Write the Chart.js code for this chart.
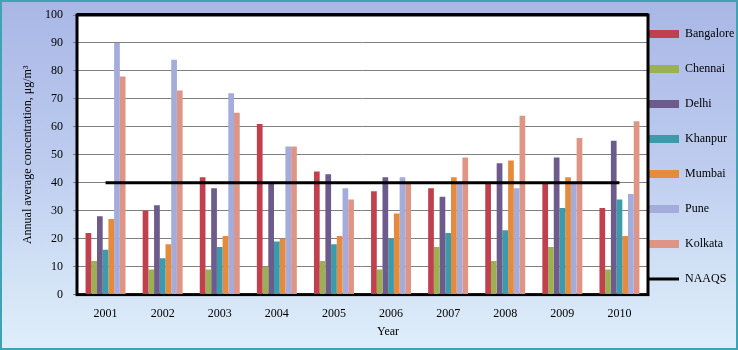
<!DOCTYPE html>
<html>
<head>
<meta charset="utf-8">
<script src="https://cdn.jsdelivr.net/npm/chart.js@4.4.1/dist/chart.umd.min.js"></script>
<style>
  body { margin: 0; }
  #wrap {
    position: relative; width: 738px; height: 350px; box-sizing: border-box;
    border: 2px solid #3fa3b3;
    background: linear-gradient(#a9b7e6 0%, #bccbee 45%, #d3e3f6 80%, #dfeefa 100%);
  }
  #wrap canvas { position: absolute; left: -2px; top: -2px; }
</style>
</head>
<body>
<div id="wrap"><canvas id="c" width="738" height="350"></canvas></div>
<script>
const years = ['2001', '2002', '2003', '2004', '2005', '2006', '2007', '2008', '2009', '2010'];

// annual average concentration per city, µg/m3
const bangalore = [22, 30, 42, 61, 44, 37, 38, 40, 40, 31];
const chennai   = [12,  9,  9, 10, 12,  9, 17, 12, 17,  9];
const delhi     = [28, 32, 38, 40, 43, 42, 35, 47, 49, 55];
const khanpur   = [16, 13, 17, 19, 18, 20, 22, 23, 31, 34];
const mumbai    = [27, 18, 21, 20, 21, 29, 42, 48, 42, 21];
const pune      = [90, 84, 72, 53, 38, 42, 40, 38, 40, 36];
const kolkata   = [78, 73, 65, 53, 34, 40, 49, 64, 56, 62];
const naaqs     = years.map(() => 40);

const serif = 'Liberation Serif, Times New Roman, serif';

const cities = [
  ['Bangalore', bangalore, '#c0404e'],
  ['Chennai',   chennai,   '#9bb052'],
  ['Delhi',     delhi,     '#6c5b8b'],
  ['Khanpur',   khanpur,   '#3b9bab'],
  ['Mumbai',    mumbai,    '#e68b3d'],
  ['Pune',      pune,      '#a4acdc'],
  ['Kolkata',   kolkata,   '#df9585'],
];

// white plot area, black frame under the bars, legend pulled against the frame
const plotFrame = {
  id: 'plotFrame',
  beforeLayout(chart) {
    const lg = chart.legend;
    if (lg && !lg._narrow) {
      const fit = lg.fit.bind(lg);
      lg.fit = function () { fit(); this.width = 90; };
      lg._narrow = true;
    }
  },
  afterLayout(chart) {
    const lg = chart.legend, a = chart.chartArea;
    lg.left = a.right + 1 - lg.options.labels.padding;
    lg.right = chart.width;
    lg.width = lg.right - lg.left;
    lg.top = a.top - 10;
    lg.bottom = chart.height;
    lg.height = lg.bottom - lg.top;
  },
  beforeDraw(chart) {
    const { ctx, chartArea: a } = chart;
    ctx.save();
    ctx.fillStyle = '#fff';
    ctx.fillRect(a.left, a.top, a.right - a.left, a.bottom - a.top);
    ctx.restore();
  },
  beforeDatasetsDraw(chart) {
    const { ctx, chartArea: a } = chart;
    ctx.save();
    ctx.strokeStyle = '#000';
    ctx.lineWidth = 3;
    ctx.strokeRect(a.left, a.top, a.right - a.left, a.bottom - a.top);
    ctx.fillStyle = '#000';
    ctx.fillRect(a.left, a.top - 2, a.right - a.left, 2);
    ctx.restore();
  },
  afterDraw(chart) {
    // axis name sits under the 2006 group
    const { ctx, scales: { x } } = chart;
    ctx.save();
    ctx.font = '12px ' + serif;
    ctx.fillStyle = '#000';
    ctx.textAlign = 'center';
    ctx.textBaseline = 'middle';
    ctx.fillText('Year', x.getPixelForValue(5) - 3, 332);
    ctx.restore();
  }
};

new Chart(document.getElementById('c'), {
  type: 'bar',
  data: {
    labels: years,
    datasets: [
      ...cities.map(([name, vals, col]) => ({
        label: name, data: vals, backgroundColor: col, borderWidth: 0, order: 1,
        barPercentage: 1, categoryPercentage: 0.7
      })),
      { type: 'line', label: 'NAAQS', data: naaqs, borderColor: '#000', backgroundColor: '#000',
        borderWidth: 3, pointRadius: 0, fill: false, order: 0 }
    ]
  },
  options: {
    responsive: false,
    animation: false,
    layout: { padding: { top: 15, left: 0, right: 0, bottom: 17 } },
    scales: {
      x: {
        grid: { display: false, drawTicks: false },
        border: { display: false },
        ticks: { color: '#000', padding: 12, font: { family: serif, size: 12 } }
      },
      y: {
        min: 0, max: 100,
        afterFit: s => { s.width = 77; s.paddingTop = 0; s.paddingBottom = 0; },
        grid: { color: '#808080', lineWidth: 1, tickLength: 4 },
        border: { display: false },
        ticks: { stepSize: 10, color: '#000', padding: 10, font: { family: serif, size: 12 } },
        title: { display: true, text: 'Annual average concentration, μg/m³', color: '#000',
                 padding: { top: 21 }, font: { family: serif, size: 12 } }
      }
    },
    plugins: {
      tooltip: { enabled: false },
      legend: {
        position: 'right',
        align: 'start',
        labels: {
          color: '#000', font: { family: serif, size: 12 },
          padding: 23, boxWidth: 30, boxHeight: 8,
          usePointStyle: true, pointStyleWidth: 30,
          generateLabels: chart => chart.data.datasets.map((d, i) => ({
            text: d.label,
            datasetIndex: i,
            fillStyle: d.backgroundColor,
            strokeStyle: d.borderColor || d.backgroundColor,
            lineWidth: d.type === 'line' ? 3 : 0,
            pointStyle: d.type === 'line' ? 'line' : 'rect',
            fontColor: '#000',
            hidden: false
          }))
        }
      }
    }
  },
  plugins: [plotFrame]
});
</script>
</body>
</html>
